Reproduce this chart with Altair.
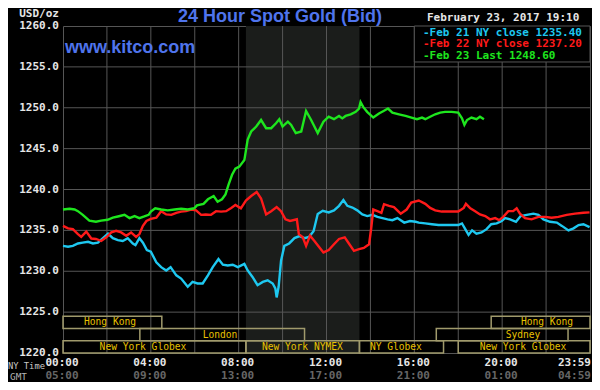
import altair as alt
import pandas as pd

# ---------------- data (hours after 00:00 NY time, USD/oz) ----------------
feb21_t = [0.0, 0.23, 0.45, 0.68, 0.9, 1.14, 1.36, 1.59, 1.82, 2.05, 2.27, 2.5, 2.72, 2.95, 3.18, 3.3, 3.48, 3.64,
           3.82, 4.0, 4.25, 4.47, 4.7, 4.9, 5.16, 5.38, 5.68, 5.9, 6.13, 6.36, 6.6, 6.82, 7.08, 7.28, 7.5, 7.73, 7.96,
           8.26, 8.41, 8.63, 8.86, 9.1, 9.32, 9.55, 9.67, 9.73, 9.82, 9.93, 10.08, 10.3, 10.54, 10.77, 11.0, 11.2,
           11.41, 11.6, 11.83, 12.1, 12.34, 12.57, 12.77, 12.95, 13.18, 13.4, 13.63, 13.86, 14.09, 14.32, 14.55,
           14.78, 15.0, 15.23, 15.54, 15.8, 16.06, 16.2, 16.5, 16.8, 17.1, 17.55, 18.0, 18.17, 18.32, 18.47, 18.63,
           18.83, 19.06, 19.29, 19.5, 19.75, 19.98, 20.13, 20.36, 20.63, 20.84, 21.12, 21.42, 21.65, 21.88, 22.18,
           22.49, 22.72, 23.02, 23.25, 23.48, 23.7, 23.98]
feb21_v = [1233.1, 1233.0, 1233.1, 1233.4, 1233.5, 1233.6, 1233.4, 1233.5, 1234.05, 1234.6, 1234.05, 1233.8, 1233.7,
           1234.05, 1233.4, 1233.2, 1234.05, 1233.5, 1232.6, 1232.4, 1231.1, 1230.5, 1230.1, 1230.5, 1229.5, 1229.1,
           1228.1, 1228.7, 1228.5, 1228.5, 1229.5, 1230.5, 1231.5, 1230.8, 1230.7, 1230.8, 1230.5, 1230.9, 1230.1,
           1229.3, 1228.3, 1228.7, 1228.9, 1228.5, 1227.9, 1226.8, 1228.1, 1231.3, 1233.1, 1233.4, 1234.05, 1234.3,
           1234.05, 1234.2, 1234.9, 1237.0, 1237.4, 1237.2, 1237.45, 1238.0, 1238.7, 1238.0, 1237.8, 1237.45, 1236.95,
           1236.75, 1236.9, 1236.65, 1236.5, 1236.35, 1236.25, 1236.5, 1235.95, 1236.15, 1236.05, 1235.95, 1235.85,
           1235.75, 1235.65, 1235.65, 1235.65, 1235.85, 1235.15, 1234.45, 1235.0, 1234.6, 1234.75, 1235.15, 1235.75,
           1235.85, 1236.15, 1236.5, 1236.35, 1236.05, 1236.75, 1236.9, 1237.05, 1236.9, 1236.35, 1236.05, 1235.95,
           1235.55, 1235.0, 1235.25, 1235.65, 1235.75, 1235.4]

feb22_t = [0.0, 0.23, 0.45, 0.68, 0.83, 1.06, 1.29, 1.5, 1.74, 1.97, 2.2, 2.42, 2.65, 2.88, 3.1, 3.33, 3.48, 3.64, 3.8,
           4.0, 4.25, 4.47, 4.7, 4.93, 5.16, 5.38, 5.6, 5.83, 6.06, 6.29, 6.5, 6.74, 6.97, 7.2, 7.43, 7.66, 7.85, 8.1,
           8.33, 8.57, 8.82, 9.02, 9.25, 9.48, 9.73, 9.93, 10.13, 10.34, 10.65, 10.74, 10.92, 11.07, 11.25, 11.45,
           11.68, 11.86, 12.1, 12.34, 12.57, 12.83, 13.02, 13.25, 13.48, 13.7, 13.94, 14.04, 14.13, 14.32, 14.5,
           14.62, 14.85, 15.07, 15.38, 15.65, 15.86, 16.2, 16.5, 16.72, 16.95, 17.25, 17.55, 18.0, 18.25, 18.35,
           18.55, 18.77, 18.99, 19.23, 19.45, 19.68, 19.86, 20.05, 20.28, 20.5, 20.66, 20.81, 21.04, 21.34, 21.65,
           21.95, 22.25, 22.56, 22.94, 23.32, 23.7, 23.98]
feb22_v = [1235.55, 1235.25, 1235.15, 1234.55, 1234.2, 1234.85, 1234.0, 1233.95, 1233.7, 1234.15, 1234.75, 1234.95,
           1234.75, 1234.35, 1234.75, 1234.2, 1234.55, 1235.55, 1236.15, 1236.4, 1236.55, 1237.35, 1236.95, 1236.9,
           1237.15, 1237.3, 1237.35, 1237.55, 1237.45, 1236.9, 1236.95, 1236.9, 1237.35, 1237.3, 1237.35, 1237.75,
           1238.1, 1237.7, 1238.65, 1239.2, 1239.7, 1238.9, 1236.95, 1237.35, 1237.85, 1237.35, 1236.35, 1236.15,
           1236.35, 1234.55, 1234.15, 1233.1, 1234.35, 1233.7, 1232.9, 1232.3, 1232.6, 1233.3, 1233.95, 1234.15,
           1233.4, 1232.5, 1232.7, 1232.85, 1233.3, 1235.35, 1237.55, 1237.35, 1237.15, 1238.2, 1238.0, 1237.85,
           1237.05, 1237.55, 1238.4, 1238.65, 1238.25, 1237.75, 1237.45, 1237.3, 1237.3, 1237.3, 1237.75, 1238.25,
           1237.7, 1237.35, 1236.95, 1236.75, 1236.35, 1236.5, 1236.25, 1236.65, 1237.35, 1237.35, 1237.7, 1237.05,
           1236.5, 1236.35, 1236.65, 1236.65, 1236.55, 1236.65, 1236.9, 1237.05, 1237.15, 1237.2]

feb23_t = [0.0, 0.3, 0.53, 0.68, 0.9, 1.2, 1.5, 1.74, 2.03, 2.27, 2.5, 2.8, 3.03, 3.26, 3.48, 3.7, 3.9, 4.0, 4.2,
           4.47, 4.77, 5.08, 5.38, 5.68, 5.98, 6.1, 6.4, 6.6, 6.86, 7.04, 7.24, 7.4, 7.54, 7.7, 7.85, 8.03, 8.26,
           8.41, 8.57, 8.8, 9.02, 9.25, 9.48, 9.7, 9.85, 10.0, 10.24, 10.39, 10.6, 10.85, 11.07, 11.3, 11.6, 11.86,
           12.1, 12.34, 12.57, 12.72, 12.87, 13.1, 13.33, 13.48, 13.55, 13.67, 13.85, 14.13, 14.39, 14.6, 14.8,
           15.0, 15.3, 15.6, 15.87, 16.12, 16.35, 16.5, 16.72, 16.95, 17.18, 17.4, 17.7, 18.0, 18.17, 18.28, 18.4,
           18.6, 18.83, 18.99, 19.17]
feb23_v = [1237.55, 1237.65, 1237.55, 1237.35, 1236.9, 1236.2, 1236.05, 1236.2, 1236.3, 1236.55, 1236.7, 1236.9,
           1236.5, 1236.75, 1236.5, 1236.7, 1236.9, 1237.3, 1237.7, 1237.55, 1237.45, 1237.55, 1237.65, 1237.55,
           1237.7, 1238.05, 1238.25, 1238.8, 1239.2, 1238.5, 1238.8, 1239.4, 1240.6, 1241.8, 1242.55, 1242.8,
           1243.6, 1246.1, 1247.1, 1247.7, 1248.5, 1247.5, 1247.5, 1248.1, 1248.6, 1247.7, 1248.3, 1247.9, 1246.9,
           1247.1, 1249.6, 1248.5, 1246.9, 1248.3, 1248.9, 1248.6, 1249.0, 1248.7, 1249.0, 1249.2, 1249.5, 1249.9,
           1250.7, 1250.1, 1249.5, 1248.8, 1249.3, 1249.6, 1249.9, 1249.4, 1249.2, 1249.0, 1248.8, 1248.6, 1248.8,
           1248.6, 1248.9, 1249.2, 1249.4, 1249.5, 1249.5, 1249.4, 1248.7, 1247.9, 1248.5, 1248.8, 1248.6, 1248.9,
           1248.6]

legend_labels = ["-Feb 21 NY close 1235.40", "-Feb 22 NY close 1237.20", "-Feb 23 Last 1248.60"]
series_colors = ["#1ec8f0", "#ff1a1a", "#1ee61e"]

# trading sessions (start hour, end hour, row 1=top .. 3=bottom, label centre hour)
session_names = ["Hong Kong", "London", "New York Globex", "New York NYMEX", "NY Globex",
                 "New York Globex", "Sydney", "Hong Kong"]
session_start = [0.0, 3.5, 0.0, 8.33, 13.5, 18.0, 17.0, 19.5]
session_end = [4.5, 11.0, 8.33, 13.5, 17.33, 24.0, 23.0, 24.0]
session_row = [1, 2, 3, 3, 3, 3, 2, 1]
session_label_at = [2.14, 7.15, 3.64, 10.9, 15.16, 20.95, 20.95, 22.04]
row_bottom = {1: 1223.0, 2: 1221.5, 3: 1220.0}
row_height = 1.5

nymex_open, nymex_close = 8.33, 13.5

tick_hours = [0, 4, 8, 12, 16, 20]
ny_labels = ["00:00", "04:00", "08:00", "12:00", "16:00", "20:00"]
gmt_labels = ["05:00", "09:00", "13:00", "17:00", "21:00", "01:00"]
last_ny, last_gmt = "23:59", "04:59"

grid_hours = [2, 4, 6, 8, 10, 12, 14, 16, 18, 20, 22]
grid_prices = [1225, 1230, 1235, 1240, 1245, 1250, 1255]
axis_prices = [1220, 1225, 1230, 1235, 1240, 1245, 1250, 1255, 1260]

# ---------------- chart ----------------
W, H = 527, 327
MONO = "DejaVu Sans Mono"
GRID = "#565656"
GOLD = "#e8c200"
BOX = "#a09a6c"
NY_Y, GMT_Y = 337.0, 350.3

xs = alt.Scale(domain=[0, 24], nice=False, zero=False)
ys = alt.Scale(domain=[1220, 1260], nice=False, zero=False)


def X(f):
    return alt.X(f, type="quantitative", scale=xs, axis=None)


def Y(f):
    return alt.Y(f, type="quantitative", scale=ys, axis=None)


shade = alt.Chart(pd.DataFrame({"a": [nymex_open], "b": [nymex_close], "lo": [1220], "hi": [1260]})).mark_rect(
    color="#1b1d1b").encode(x=X("a"), x2="b", y=Y("lo"), y2="hi")

vgrid = alt.Chart(pd.DataFrame({"h": grid_hours})).mark_rule(color=GRID, strokeWidth=1).encode(x=X("h"))
hgrid = alt.Chart(pd.DataFrame({"p": grid_prices})).mark_rule(color=GRID, strokeWidth=1).encode(y=Y("p"))

ylab_df = pd.DataFrame({"p": axis_prices, "lab": [f"{p:.1f}" for p in axis_prices]})
ylabels = alt.Chart(ylab_df).mark_text(font=MONO, fontSize=11, fontWeight="bold", color="#e6e6e6",
                                       align="right", baseline="middle").encode(
    x=alt.value(-4), y=Y("p"), text="lab:N")

sess_df = pd.DataFrame({
    "name": session_names, "s": session_start, "e": session_end,
    "lo": [row_bottom[r] for r in session_row],
    "hi": [row_bottom[r] + row_height for r in session_row],
    "mid": [row_bottom[r] + row_height / 2 for r in session_row],
    "lx": session_label_at,
})
sess_box = alt.Chart(sess_df).mark_rect(fillOpacity=0, stroke=BOX, strokeWidth=1.5).encode(
    x=X("s"), x2="e", y=Y("lo"), y2="hi")
sess_txt = alt.Chart(sess_df).mark_text(font=MONO, fontSize=9.6, color=GOLD, align="center",
                                        baseline="middle").encode(
    x=X("lx"), y=Y("mid"), text="name:N")


def line_layer(t, v, col):
    return alt.Chart(pd.DataFrame({"t": t, "v": v})).mark_line(color=col, strokeWidth=2.4).encode(
        x=X("t"), y=Y("v"))


l21 = line_layer(feb21_t, feb21_v, series_colors[0])
l22 = line_layer(feb22_t, feb22_v, series_colors[1])
l23 = line_layer(feb23_t, feb23_v, series_colors[2])

leg_box = alt.Chart(pd.DataFrame({"a": [16.0], "b": [24.0], "lo": [1255.6], "hi": [1260]})).mark_rect(
    fill="black", stroke=GRID, strokeWidth=1).encode(x=X("a"), x2="b", y=Y("lo"), y2="hi")

leg_txt = []
for i, (lab, col) in enumerate(zip(legend_labels, series_colors)):
    leg_txt.append(alt.Chart(pd.DataFrame({"t": [lab]})).mark_text(
        font=MONO, fontSize=11, fontWeight="bold", color=col, align="left", baseline="middle").encode(
        x=alt.value(360), y=alt.value(6.5 + 11.9 * i), text="t:N"))


def ptext(s, px, py, **kw):
    return alt.Chart(pd.DataFrame({"t": [s]})).mark_text(**kw).encode(
        x=alt.value(px), y=alt.value(py), text="t:N")


title = ptext("24 Hour Spot Gold (Bid)", 217, -4, font="Liberation Sans", fontSize=18, fontWeight="bold",
              color="#4f74ec", align="center", baseline="alphabetic")
kitco = ptext("www.kitco.com", 2, 26.5, font="Liberation Sans", fontSize=18, fontWeight="bold",
              color="#4f74ec", align="left", baseline="alphabetic")
stamp = ptext("February 23, 2017 19:10", 364, -7.7, font=MONO, fontSize=11, fontWeight="bold",
              color="#e6e6e6", align="left", baseline="middle")
unit = ptext("USD/oz", -4, -12, font=MONO, fontSize=11, fontWeight="bold", color="#e6e6e6",
             align="right", baseline="middle")
nyt = ptext("NY Time", -18, 340, font=MONO, fontSize=8.8, color="#c8c8c8", align="right", baseline="middle")
gmt = ptext("GMT", -36, 351, font=MONO, fontSize=9.4, color="#b4b4b4", align="right", baseline="middle")

tick_df = pd.DataFrame({"h": tick_hours, "ny": ny_labels, "gmt": gmt_labels})
ny_ticks = alt.Chart(tick_df).mark_text(font=MONO, fontSize=11, fontWeight="bold", color="#e6e6e6",
                                        align="center", baseline="middle", dx=-1).encode(
    x=X("h"), y=alt.value(NY_Y), text="ny:N")
gmt_ticks = alt.Chart(tick_df).mark_text(font=MONO, fontSize=11, fontWeight="bold", color="#666666",
                                         align="center", baseline="middle", dx=-1).encode(
    x=X("h"), y=alt.value(GMT_Y), text="gmt:N")
last_df = pd.DataFrame({"h": [24], "ny": [last_ny], "gmt": [last_gmt]})
ny_last = alt.Chart(last_df).mark_text(font=MONO, fontSize=11, fontWeight="bold", color="#e6e6e6",
                                       align="right", baseline="middle", dx=1).encode(
    x=X("h"), y=alt.value(NY_Y), text="ny:N")
gmt_last = alt.Chart(last_df).mark_text(font=MONO, fontSize=11, fontWeight="bold", color="#666666",
                                        align="right", baseline="middle", dx=1).encode(
    x=X("h"), y=alt.value(GMT_Y), text="gmt:N")

chart = alt.layer(
    shade, vgrid, hgrid, ylabels, sess_box, sess_txt, l21, l22, l23, leg_box, *leg_txt,
    title, kitco, stamp, unit, nyt, gmt, ny_ticks, gmt_ticks, ny_last, gmt_last
).properties(
    width=W, height=H,
    padding={"left": 55, "top": 18, "right": 2, "bottom": 29},
    autosize=alt.AutoSizeParams(type="none"),
    background="black",
).configure_view(stroke=GRID, strokeWidth=1, fill="black")

chart.save("out.html", embed_options={"renderer": "svg", "actions": False})
